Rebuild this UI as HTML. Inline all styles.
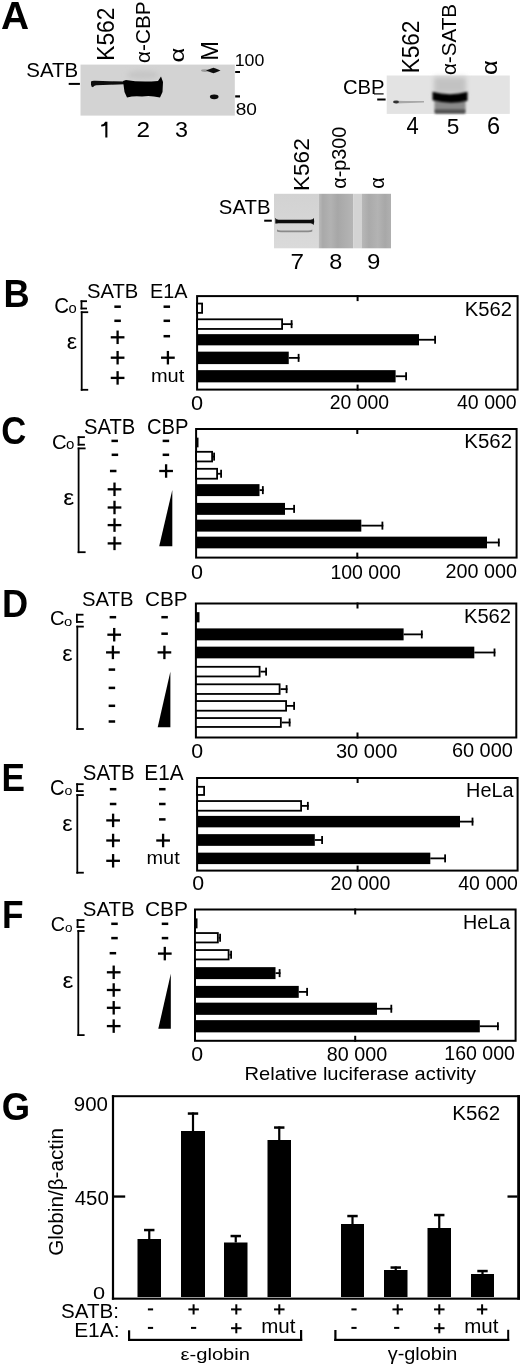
<!DOCTYPE html>
<html><head><meta charset="utf-8"><style>
html,body{margin:0;padding:0;background:#fff;}
svg{display:block;will-change:transform;}
text{font-family:"Liberation Sans", sans-serif;}
</style></head><body>
<svg width="520" height="1368" viewBox="0 0 520 1368">
<rect width="520" height="1368" fill="#fff"/>
<text x="0.93" y="28.50" font-size="37.96" textLength="28.13" lengthAdjust="spacingAndGlyphs" font-weight="bold" fill="#000">A</text>
<defs><filter id="bl1" x="-20%" y="-50%" width="140%" height="200%"><feGaussianBlur stdDeviation="1.2"/></filter><filter id="bl2" x="-20%" y="-50%" width="140%" height="200%"><feGaussianBlur stdDeviation="0.7"/></filter><filter id="bl3" x="-20%" y="-50%" width="140%" height="200%"><feGaussianBlur stdDeviation="2.5"/></filter></defs>
<rect x="80.50" y="64.60" width="154.30" height="51.00" fill="#d3d3d3" />
<ellipse cx="143" cy="75" rx="16" ry="4.5" fill="#c6c6c6" filter="url(#bl3)"/>
<path d="M91,81.5 Q92,80.6 95,80.8 L110,81.2 Q118,81.3 124,81.5 L124,84.2 Q118,84.4 110,84.8 L96,85.2 Q93.5,85.5 93,87.2 Q91,87 91,84.5 Z" fill="#0a0a0a" filter="url(#bl2)"/>
<path d="M123,81 L126,80 Q140,82.5 158,81 L161,76.5 L163,82 L162.5,92 L160,97.5 Q150,95 142,96.5 Q134,95.5 127,97.5 L124.5,92 Z" fill="#050505" filter="url(#bl2)"/>
<ellipse cx="205" cy="70.6" rx="4" ry="1.4" fill="#999" filter="url(#bl2)"/>
<path d="M206,70.5 Q210,68.8 213.5,67.8 Q217,68.8 220.5,70.5 Q217,72.2 213.5,73.2 Q210,72.2 206,70.5 Z" fill="#0a0a0a" filter="url(#bl2)"/>
<ellipse cx="214.2" cy="96.8" rx="4.3" ry="2.4" fill="#0a0a0a" filter="url(#bl2)"/>
<text transform="translate(113.66,60.78) rotate(-90)" font-size="23.75" textLength="53.18" lengthAdjust="spacingAndGlyphs">K562</text>
<text transform="translate(149.69,62.88) rotate(-90)" font-size="20.78" textLength="61.36" lengthAdjust="spacingAndGlyphs">α-CBP</text>
<text transform="translate(184.39,62.39) rotate(-90)" font-size="21.00" textLength="14.81" lengthAdjust="spacingAndGlyphs">α</text>
<text transform="translate(217.50,60.65) rotate(-90)" font-size="23.56" textLength="19.72" lengthAdjust="spacingAndGlyphs">M</text>
<text x="26.28" y="77.40" font-size="20.35" textLength="52.00" lengthAdjust="spacingAndGlyphs" fill="#000">SATB</text>
<rect x="68.70" y="82.90" width="11.20" height="2.00" fill="#000" />
<rect x="235.20" y="71.00" width="4.80" height="2.00" fill="#000" />
<rect x="235.20" y="95.30" width="4.80" height="2.20" fill="#000" />
<text x="234.66" y="65.64" font-size="16.40" textLength="29.72" lengthAdjust="spacingAndGlyphs" fill="#000">100</text>
<text x="235.69" y="115.24" font-size="16.40" textLength="21.27" lengthAdjust="spacingAndGlyphs" fill="#000">80</text>
<path d="M105.2,121.8 L107.4,121.8 L107.4,137.4 L105.3,137.4 L105.3,125.4 Q103.6,126.4 101.2,126.6 L101.2,124.8 Q104.2,124.3 105.2,121.8 Z" fill="#000"/>
<text x="136.48" y="137.40" font-size="22.37" textLength="13.57" lengthAdjust="spacingAndGlyphs" fill="#000">2</text>
<text x="174.92" y="137.18" font-size="22.05" textLength="13.00" lengthAdjust="spacingAndGlyphs" fill="#000">3</text>
<rect x="386.70" y="75.50" width="123.10" height="38.40" fill="#e3e3e3" />
<rect x="434" y="77" width="32" height="17" fill="#c2c2c2" filter="url(#bl3)"/>
<rect x="434.5" y="100" width="31" height="13" fill="#8a8a8a" filter="url(#bl1)"/>
<rect x="435" y="109.5" width="30" height="4" fill="#505050" filter="url(#bl1)"/>
<path d="M396,100.8 Q410,101.2 424,101 L424,102.6 Q410,103 396,103.4 Z" fill="#a8a8a8" filter="url(#bl2)"/>
<ellipse cx="396" cy="102" rx="3" ry="1.4" fill="#333" filter="url(#bl2)"/>
<path d="M432.5,91.8 Q450,96.5 467.5,91.8 L467.5,100.8 Q450,105 432.5,100.3 Z" fill="#050505" filter="url(#bl1)"/>
<text transform="translate(418.77,73.37) rotate(-90)" font-size="23.46" textLength="52.81" lengthAdjust="spacingAndGlyphs">K562</text>
<text transform="translate(455.99,75.08) rotate(-90)" font-size="20.92" textLength="71.13" lengthAdjust="spacingAndGlyphs">α-SATB</text>
<text transform="translate(497.08,74.89) rotate(-90)" font-size="21.55" textLength="14.81" lengthAdjust="spacingAndGlyphs">α</text>
<text x="342.99" y="94.30" font-size="19.93" textLength="41.65" lengthAdjust="spacingAndGlyphs" fill="#000">CBP</text>
<rect x="377.20" y="98.50" width="8.40" height="2.00" fill="#000" />
<rect x="374.00" y="93.30" width="9.60" height="1.20" fill="#000" />
<text x="406.41" y="133.90" font-size="23.42" textLength="12.22" lengthAdjust="spacingAndGlyphs" fill="#000">4</text>
<text x="446.84" y="133.67" font-size="22.80" textLength="12.59" lengthAdjust="spacingAndGlyphs" fill="#000">5</text>
<text x="486.92" y="134.01" font-size="23.53" textLength="13.11" lengthAdjust="spacingAndGlyphs" fill="#000">6</text>
<defs><linearGradient id="l8" x1="0" x2="1" y1="0" y2="0"><stop offset="0" stop-color="#bcbcbc"/><stop offset="0.12" stop-color="#a9a9a9"/><stop offset="0.35" stop-color="#b2b2b2"/><stop offset="0.55" stop-color="#a7a7a7"/><stop offset="0.8" stop-color="#afafaf"/><stop offset="1" stop-color="#b5b5b5"/></linearGradient><linearGradient id="l9" x1="0" x2="1" y1="0" y2="0"><stop offset="0" stop-color="#b8b8b8"/><stop offset="0.25" stop-color="#aaaaaa"/><stop offset="0.55" stop-color="#b3b3b3"/><stop offset="0.8" stop-color="#a8a8a8"/><stop offset="1" stop-color="#b0b0b0"/></linearGradient><linearGradient id="l7" x1="0" x2="0" y1="0" y2="1"><stop offset="0" stop-color="#d2d2d2"/><stop offset="1" stop-color="#dadada"/></linearGradient></defs>
<rect x="274.00" y="193.80" width="44.60" height="54.50" fill="url(#l7)" />
<rect x="318.60" y="193.80" width="34.60" height="54.50" fill="url(#l8)" />
<rect x="353.20" y="193.80" width="8.40" height="54.50" fill="#d3d3d3" />
<rect x="361.60" y="193.80" width="29.40" height="54.50" fill="url(#l9)" />
<path d="M275.3,217.8 Q276,219.6 278.5,219.7 L310.5,219.7 Q313,219.6 313.9,217.9 L314.2,222 L313.6,225 Q312.5,223.3 310.5,223.2 L278.5,223.2 Q276,223.3 275.3,223.6 Z" fill="#0c0c0c" filter="url(#bl2)"/>
<path d="M277,229.6 Q278.5,230.5 281,230.5 L308,230.5 Q311,230.5 312.3,229.6 L312.3,231.5 Q311,232.2 308,232.2 L281,232.2 Q278.5,232.2 277,231.5 Z" fill="#8a8a8a" filter="url(#bl2)"/>
<text transform="translate(308.67,191.07) rotate(-90)" font-size="22.90" textLength="52.81" lengthAdjust="spacingAndGlyphs">K562</text>
<text transform="translate(345.73,188.84) rotate(-90)" font-size="20.11" textLength="62.20" lengthAdjust="spacingAndGlyphs">α-p300</text>
<text transform="translate(384.00,188.85) rotate(-90)" font-size="19.54" textLength="11.51" lengthAdjust="spacingAndGlyphs">α</text>
<text x="218.88" y="213.50" font-size="20.21" textLength="51.69" lengthAdjust="spacingAndGlyphs" fill="#000">SATB</text>
<rect x="264.20" y="219.70" width="7.60" height="2.00" fill="#000" />
<text x="290.42" y="268.80" font-size="21.82" textLength="13.52" lengthAdjust="spacingAndGlyphs" fill="#000">7</text>
<text x="329.21" y="268.59" font-size="21.20" textLength="13.02" lengthAdjust="spacingAndGlyphs" fill="#000">8</text>
<text x="366.96" y="268.59" font-size="21.20" textLength="13.35" lengthAdjust="spacingAndGlyphs" fill="#000">9</text>
<text x="3.45" y="307.40" font-size="38.25" textLength="26.16" lengthAdjust="spacingAndGlyphs" font-weight="bold" fill="#000">B</text>
<text x="86.89" y="297.59" font-size="20.64" textLength="51.38" lengthAdjust="spacingAndGlyphs" fill="#000">SATB</text>
<text x="149.96" y="297.80" font-size="21.09" textLength="37.49" lengthAdjust="spacingAndGlyphs" fill="#000">E1A</text>
<text x="54.27" y="312.59" font-size="21.34" textLength="14.84" lengthAdjust="spacingAndGlyphs" fill="#000">C</text>
<text x="68.57" y="312.66" font-size="14.25" textLength="8.24" lengthAdjust="spacingAndGlyphs" fill="#000">o</text>
<rect x="80.60" y="300.30" width="1.80" height="9.10" fill="#000" />
<rect x="80.60" y="300.30" width="6.40" height="1.80" fill="#000" />
<rect x="80.60" y="307.60" width="6.40" height="1.80" fill="#000" />
<rect x="80.80" y="311.30" width="1.80" height="79.40" fill="#000" />
<rect x="80.80" y="311.30" width="7.40" height="1.80" fill="#000" />
<rect x="80.80" y="388.90" width="7.40" height="1.80" fill="#000" />
<text x="66.68" y="348.58" font-size="21.92" textLength="10.40" lengthAdjust="spacingAndGlyphs" fill="#000">ε</text>
<rect x="114.35" y="305.45" width="6.50" height="2.50" fill="#000" />
<rect x="114.35" y="319.55" width="6.50" height="2.50" fill="#000" />
<rect x="110.75" y="336.15" width="13.70" height="2.30" fill="#000" />
<rect x="116.45" y="330.55" width="2.30" height="13.50" fill="#000" />
<rect x="110.75" y="356.55" width="13.70" height="2.30" fill="#000" />
<rect x="116.45" y="350.95" width="2.30" height="13.50" fill="#000" />
<rect x="110.75" y="376.75" width="13.70" height="2.30" fill="#000" />
<rect x="116.45" y="371.15" width="2.30" height="13.50" fill="#000" />
<rect x="163.55" y="305.45" width="6.50" height="2.50" fill="#000" />
<rect x="163.55" y="319.55" width="6.50" height="2.50" fill="#000" />
<rect x="163.55" y="334.95" width="6.50" height="2.50" fill="#000" />
<rect x="161.05" y="356.55" width="13.70" height="2.30" fill="#000" />
<rect x="166.75" y="350.95" width="2.30" height="13.50" fill="#000" />
<text x="150.95" y="381.52" font-size="17.56" textLength="33.39" lengthAdjust="spacingAndGlyphs" fill="#000">mut</text>
<rect x="197.10" y="296.10" width="320.50" height="93.50" fill="none" stroke="#000" stroke-width="2"/>
<rect x="356.60" y="295.10" width="2.00" height="6.00" fill="#000" />
<rect x="356.60" y="384.60" width="2.00" height="6.00" fill="#000" />
<rect x="197.10" y="303.55" width="5.00" height="9.30" fill="#fff" stroke="#000" stroke-width="1.8"/>
<rect x="197.10" y="319.30" width="85.00" height="9.65" fill="#fff" stroke="#000" stroke-width="1.8"/>
<rect x="283.00" y="323.23" width="9.50" height="1.80" fill="#000" />
<rect x="290.70" y="320.12" width="1.80" height="8.00" fill="#000" />
<rect x="197.10" y="334.15" width="221.90" height="11.20" fill="#000" />
<rect x="419.00" y="338.85" width="17.00" height="1.80" fill="#000" />
<rect x="434.20" y="335.75" width="1.80" height="8.00" fill="#000" />
<rect x="197.10" y="351.65" width="91.65" height="12.45" fill="#000" />
<rect x="288.75" y="356.98" width="10.75" height="1.80" fill="#000" />
<rect x="297.70" y="353.88" width="1.80" height="8.00" fill="#000" />
<rect x="197.10" y="370.15" width="198.50" height="12.20" fill="#000" />
<rect x="395.60" y="375.35" width="11.40" height="1.80" fill="#000" />
<rect x="405.20" y="372.25" width="1.80" height="8.00" fill="#000" />
<text x="464.83" y="316.41" font-size="19.36" textLength="47.19" lengthAdjust="spacingAndGlyphs" fill="#000">K562</text>
<text x="191.03" y="409.50" font-size="20.35" textLength="12.11" lengthAdjust="spacingAndGlyphs" fill="#000">0</text>
<text x="329.73" y="409.40" font-size="19.51" textLength="59.32" lengthAdjust="spacingAndGlyphs" fill="#000">20 000</text>
<text x="456.96" y="409.00" font-size="19.51" textLength="59.80" lengthAdjust="spacingAndGlyphs" fill="#000">40 000</text>
<text x="1.21" y="444.42" font-size="38.16" textLength="25.03" lengthAdjust="spacingAndGlyphs" font-weight="bold" fill="#000">C</text>
<text x="83.99" y="433.98" font-size="21.63" textLength="51.27" lengthAdjust="spacingAndGlyphs" fill="#000">SATB</text>
<text x="146.89" y="433.98" font-size="21.63" textLength="41.54" lengthAdjust="spacingAndGlyphs" fill="#000">CBP</text>
<text x="51.89" y="448.54" font-size="20.85" textLength="14.62" lengthAdjust="spacingAndGlyphs" fill="#000">C</text>
<text x="65.96" y="448.61" font-size="14.16" textLength="8.36" lengthAdjust="spacingAndGlyphs" fill="#000">o</text>
<rect x="77.70" y="436.25" width="1.80" height="9.35" fill="#000" />
<rect x="77.70" y="436.25" width="7.20" height="1.80" fill="#000" />
<rect x="77.70" y="443.80" width="7.20" height="1.80" fill="#000" />
<rect x="77.70" y="447.50" width="1.80" height="105.60" fill="#000" />
<rect x="77.70" y="447.50" width="7.90" height="1.80" fill="#000" />
<rect x="77.70" y="551.30" width="7.90" height="1.80" fill="#000" />
<text x="63.23" y="504.99" font-size="21.37" textLength="11.03" lengthAdjust="spacingAndGlyphs" fill="#000">ε</text>
<rect x="111.45" y="439.65" width="6.50" height="2.50" fill="#000" />
<rect x="111.65" y="453.55" width="6.50" height="2.50" fill="#000" />
<rect x="109.95" y="469.75" width="6.50" height="2.50" fill="#000" />
<rect x="107.65" y="488.15" width="13.70" height="2.30" fill="#000" />
<rect x="113.35" y="482.55" width="2.30" height="13.50" fill="#000" />
<rect x="107.65" y="506.35" width="13.70" height="2.30" fill="#000" />
<rect x="113.35" y="500.75" width="2.30" height="13.50" fill="#000" />
<rect x="107.65" y="523.95" width="13.70" height="2.30" fill="#000" />
<rect x="113.35" y="518.35" width="2.30" height="13.50" fill="#000" />
<rect x="107.65" y="542.25" width="13.70" height="2.30" fill="#000" />
<rect x="113.35" y="536.65" width="2.30" height="13.50" fill="#000" />
<rect x="162.65" y="439.65" width="6.50" height="2.50" fill="#000" />
<rect x="162.65" y="453.55" width="6.50" height="2.50" fill="#000" />
<rect x="159.25" y="469.85" width="13.70" height="2.30" fill="#000" />
<rect x="164.95" y="464.25" width="2.30" height="13.50" fill="#000" />
<path d="M172.3,489.9 L172.3,546.3 L159.2,546.3 Z" fill="#000"/>
<rect x="196.10" y="429.00" width="320.50" height="128.60" fill="none" stroke="#000" stroke-width="2"/>
<rect x="356.30" y="428.00" width="2.00" height="6.00" fill="#000" />
<rect x="356.30" y="552.60" width="2.00" height="6.00" fill="#000" />
<rect x="196.10" y="437.65" width="2.40" height="9.70" fill="#000" />
<rect x="196.10" y="451.80" width="16.00" height="9.65" fill="#fff" stroke="#000" stroke-width="1.8"/>
<rect x="213.00" y="455.73" width="2.00" height="1.80" fill="#000" />
<rect x="213.20" y="452.62" width="1.80" height="8.00" fill="#000" />
<rect x="196.10" y="468.80" width="21.00" height="9.90" fill="#fff" stroke="#000" stroke-width="1.8"/>
<rect x="218.00" y="472.85" width="4.00" height="1.80" fill="#000" />
<rect x="220.20" y="469.75" width="1.80" height="8.00" fill="#000" />
<rect x="196.10" y="484.15" width="63.40" height="11.95" fill="#000" />
<rect x="259.50" y="489.23" width="4.25" height="1.80" fill="#000" />
<rect x="261.95" y="486.12" width="1.80" height="8.00" fill="#000" />
<rect x="196.10" y="502.90" width="88.90" height="11.95" fill="#000" />
<rect x="285.00" y="507.98" width="10.00" height="1.80" fill="#000" />
<rect x="293.20" y="504.88" width="1.80" height="8.00" fill="#000" />
<rect x="196.10" y="519.65" width="165.20" height="11.95" fill="#000" />
<rect x="361.30" y="524.73" width="22.00" height="1.80" fill="#000" />
<rect x="381.50" y="521.62" width="1.80" height="8.00" fill="#000" />
<rect x="196.10" y="536.65" width="290.90" height="11.70" fill="#000" />
<rect x="487.00" y="541.60" width="12.70" height="1.80" fill="#000" />
<rect x="497.90" y="538.50" width="1.80" height="8.00" fill="#000" />
<text x="464.31" y="448.41" font-size="19.36" textLength="47.72" lengthAdjust="spacingAndGlyphs" fill="#000">K562</text>
<text x="191.14" y="579.49" font-size="20.64" textLength="12.00" lengthAdjust="spacingAndGlyphs" fill="#000">0</text>
<text x="330.44" y="578.81" font-size="19.36" textLength="70.44" lengthAdjust="spacingAndGlyphs" fill="#000">100 000</text>
<text x="445.51" y="578.40" font-size="19.93" textLength="71.48" lengthAdjust="spacingAndGlyphs" fill="#000">200 000</text>
<text x="2.05" y="617.40" font-size="38.25" textLength="26.18" lengthAdjust="spacingAndGlyphs" font-weight="bold" fill="#000">D</text>
<text x="82.09" y="605.99" font-size="20.92" textLength="51.48" lengthAdjust="spacingAndGlyphs" fill="#000">SATB</text>
<text x="144.96" y="605.99" font-size="20.92" textLength="42.60" lengthAdjust="spacingAndGlyphs" fill="#000">CBP</text>
<text x="49.99" y="625.49" font-size="20.78" textLength="14.56" lengthAdjust="spacingAndGlyphs" fill="#000">C</text>
<text x="64.07" y="625.57" font-size="13.15" textLength="8.24" lengthAdjust="spacingAndGlyphs" fill="#000">o</text>
<rect x="76.00" y="613.80" width="1.80" height="9.00" fill="#000" />
<rect x="76.00" y="613.80" width="7.50" height="1.80" fill="#000" />
<rect x="76.00" y="621.00" width="7.50" height="1.80" fill="#000" />
<rect x="76.40" y="625.70" width="1.80" height="104.20" fill="#000" />
<rect x="76.40" y="625.70" width="7.40" height="1.80" fill="#000" />
<rect x="76.40" y="728.10" width="7.40" height="1.80" fill="#000" />
<text x="62.18" y="661.38" font-size="21.92" textLength="10.40" lengthAdjust="spacingAndGlyphs" fill="#000">ε</text>
<rect x="109.65" y="615.95" width="6.50" height="2.50" fill="#000" />
<rect x="107.35" y="633.55" width="13.70" height="2.30" fill="#000" />
<rect x="113.05" y="627.95" width="2.30" height="13.50" fill="#000" />
<rect x="106.05" y="651.25" width="13.70" height="2.30" fill="#000" />
<rect x="111.75" y="645.65" width="2.30" height="13.50" fill="#000" />
<rect x="108.65" y="668.35" width="6.50" height="2.50" fill="#000" />
<rect x="108.65" y="686.65" width="6.50" height="2.50" fill="#000" />
<rect x="108.65" y="704.55" width="6.50" height="2.50" fill="#000" />
<rect x="108.65" y="720.25" width="6.50" height="2.50" fill="#000" />
<rect x="161.35" y="615.95" width="6.50" height="2.50" fill="#000" />
<rect x="161.35" y="632.45" width="6.50" height="2.50" fill="#000" />
<rect x="157.55" y="651.25" width="13.70" height="2.30" fill="#000" />
<rect x="163.25" y="645.65" width="2.30" height="13.50" fill="#000" />
<path d="M170.4,671.5 L170.4,727.3 L157.7,727.3 Z" fill="#000"/>
<rect x="195.90" y="603.50" width="320.40" height="134.00" fill="none" stroke="#000" stroke-width="2"/>
<rect x="356.50" y="602.50" width="2.00" height="6.00" fill="#000" />
<rect x="356.50" y="732.50" width="2.00" height="6.00" fill="#000" />
<rect x="195.90" y="612.15" width="3.60" height="10.20" fill="#000" />
<rect x="195.90" y="628.40" width="207.70" height="11.95" fill="#000" />
<rect x="403.60" y="633.48" width="19.10" height="1.80" fill="#000" />
<rect x="420.90" y="630.38" width="1.80" height="8.00" fill="#000" />
<rect x="195.90" y="646.65" width="278.40" height="11.70" fill="#000" />
<rect x="474.30" y="651.60" width="21.10" height="1.80" fill="#000" />
<rect x="493.60" y="648.50" width="1.80" height="8.00" fill="#000" />
<rect x="195.90" y="666.80" width="63.70" height="9.65" fill="#fff" stroke="#000" stroke-width="1.8"/>
<rect x="260.50" y="670.73" width="6.50" height="1.80" fill="#000" />
<rect x="265.20" y="667.62" width="1.80" height="8.00" fill="#000" />
<rect x="195.90" y="684.30" width="83.70" height="9.65" fill="#fff" stroke="#000" stroke-width="1.8"/>
<rect x="280.50" y="688.23" width="7.00" height="1.80" fill="#000" />
<rect x="285.70" y="685.12" width="1.80" height="8.00" fill="#000" />
<rect x="195.90" y="701.05" width="90.20" height="9.65" fill="#fff" stroke="#000" stroke-width="1.8"/>
<rect x="287.00" y="704.98" width="8.00" height="1.80" fill="#000" />
<rect x="293.20" y="701.88" width="1.80" height="8.00" fill="#000" />
<rect x="195.90" y="718.05" width="84.95" height="8.90" fill="#fff" stroke="#000" stroke-width="1.8"/>
<rect x="281.75" y="721.60" width="8.75" height="1.80" fill="#000" />
<rect x="288.70" y="718.50" width="1.80" height="8.00" fill="#000" />
<text x="463.94" y="622.55" font-size="19.79" textLength="47.08" lengthAdjust="spacingAndGlyphs" fill="#000">K562</text>
<text x="191.15" y="758.10" font-size="20.49" textLength="11.88" lengthAdjust="spacingAndGlyphs" fill="#000">0</text>
<text x="335.95" y="757.60" font-size="19.79" textLength="61.43" lengthAdjust="spacingAndGlyphs" fill="#000">30 000</text>
<text x="451.90" y="757.30" font-size="19.79" textLength="60.97" lengthAdjust="spacingAndGlyphs" fill="#000">60 000</text>
<text x="1.43" y="790.70" font-size="38.25" textLength="23.46" lengthAdjust="spacingAndGlyphs" font-weight="bold" fill="#000">E</text>
<text x="82.78" y="779.99" font-size="21.20" textLength="51.90" lengthAdjust="spacingAndGlyphs" fill="#000">SATB</text>
<text x="144.29" y="780.20" font-size="21.82" textLength="39.27" lengthAdjust="spacingAndGlyphs" fill="#000">E1A</text>
<text x="49.99" y="795.29" font-size="21.34" textLength="14.56" lengthAdjust="spacingAndGlyphs" fill="#000">C</text>
<text x="64.40" y="795.37" font-size="12.97" textLength="7.89" lengthAdjust="spacingAndGlyphs" fill="#000">o</text>
<rect x="76.25" y="783.30" width="1.80" height="8.70" fill="#000" />
<rect x="76.25" y="783.30" width="7.40" height="1.80" fill="#000" />
<rect x="76.25" y="790.20" width="7.40" height="1.80" fill="#000" />
<rect x="76.40" y="794.20" width="1.80" height="79.40" fill="#000" />
<rect x="76.40" y="794.20" width="7.40" height="1.80" fill="#000" />
<rect x="76.40" y="871.80" width="7.40" height="1.80" fill="#000" />
<text x="62.18" y="831.28" font-size="21.55" textLength="10.40" lengthAdjust="spacingAndGlyphs" fill="#000">ε</text>
<rect x="109.85" y="787.95" width="6.50" height="2.50" fill="#000" />
<rect x="109.85" y="802.75" width="6.50" height="2.50" fill="#000" />
<rect x="106.25" y="819.25" width="13.70" height="2.30" fill="#000" />
<rect x="111.95" y="813.65" width="2.30" height="13.50" fill="#000" />
<rect x="106.25" y="839.35" width="13.70" height="2.30" fill="#000" />
<rect x="111.95" y="833.75" width="2.30" height="13.50" fill="#000" />
<rect x="106.25" y="859.65" width="13.70" height="2.30" fill="#000" />
<rect x="111.95" y="854.05" width="2.30" height="13.50" fill="#000" />
<rect x="159.05" y="787.95" width="6.50" height="2.50" fill="#000" />
<rect x="159.05" y="802.75" width="6.50" height="2.50" fill="#000" />
<rect x="159.05" y="818.15" width="6.50" height="2.50" fill="#000" />
<rect x="156.25" y="839.35" width="13.70" height="2.30" fill="#000" />
<rect x="161.95" y="833.75" width="2.30" height="13.50" fill="#000" />
<text x="146.56" y="864.41" font-size="18.78" textLength="33.18" lengthAdjust="spacingAndGlyphs" fill="#000">mut</text>
<rect x="197.10" y="778.00" width="320.50" height="92.60" fill="none" stroke="#000" stroke-width="2"/>
<rect x="356.60" y="777.00" width="2.00" height="6.00" fill="#000" />
<rect x="356.60" y="865.60" width="2.00" height="6.00" fill="#000" />
<rect x="197.10" y="786.80" width="7.00" height="8.15" fill="#fff" stroke="#000" stroke-width="1.8"/>
<rect x="197.10" y="801.05" width="104.00" height="9.65" fill="#fff" stroke="#000" stroke-width="1.8"/>
<rect x="302.00" y="804.98" width="6.75" height="1.80" fill="#000" />
<rect x="306.95" y="801.88" width="1.80" height="8.00" fill="#000" />
<rect x="197.10" y="815.90" width="262.90" height="11.45" fill="#000" />
<rect x="460.00" y="820.73" width="13.40" height="1.80" fill="#000" />
<rect x="471.60" y="817.62" width="1.80" height="8.00" fill="#000" />
<rect x="197.10" y="834.15" width="117.70" height="11.70" fill="#000" />
<rect x="314.80" y="839.10" width="8.20" height="1.80" fill="#000" />
<rect x="321.20" y="836.00" width="1.80" height="8.00" fill="#000" />
<rect x="197.10" y="852.65" width="233.20" height="11.45" fill="#000" />
<rect x="430.30" y="857.48" width="15.70" height="1.80" fill="#000" />
<rect x="444.20" y="854.38" width="1.80" height="8.00" fill="#000" />
<text x="466.11" y="796.80" font-size="20.07" textLength="47.40" lengthAdjust="spacingAndGlyphs" fill="#000">HeLa</text>
<text x="192.25" y="890.49" font-size="20.64" textLength="11.88" lengthAdjust="spacingAndGlyphs" fill="#000">0</text>
<text x="330.52" y="890.00" font-size="19.65" textLength="59.84" lengthAdjust="spacingAndGlyphs" fill="#000">20 000</text>
<text x="458.26" y="889.70" font-size="19.93" textLength="59.69" lengthAdjust="spacingAndGlyphs" fill="#000">40 000</text>
<text x="1.92" y="928.00" font-size="38.55" textLength="21.55" lengthAdjust="spacingAndGlyphs" font-weight="bold" fill="#000">F</text>
<text x="82.78" y="915.99" font-size="20.92" textLength="51.90" lengthAdjust="spacingAndGlyphs" fill="#000">SATB</text>
<text x="144.95" y="915.99" font-size="20.92" textLength="43.12" lengthAdjust="spacingAndGlyphs" fill="#000">CBP</text>
<text x="50.71" y="931.49" font-size="21.06" textLength="14.27" lengthAdjust="spacingAndGlyphs" fill="#000">C</text>
<text x="65.12" y="931.57" font-size="13.15" textLength="7.53" lengthAdjust="spacingAndGlyphs" fill="#000">o</text>
<rect x="76.70" y="919.20" width="1.80" height="8.70" fill="#000" />
<rect x="76.70" y="919.20" width="7.70" height="1.80" fill="#000" />
<rect x="76.70" y="926.10" width="7.70" height="1.80" fill="#000" />
<rect x="77.40" y="930.10" width="1.80" height="105.90" fill="#000" />
<rect x="77.40" y="930.10" width="7.20" height="1.80" fill="#000" />
<rect x="77.40" y="1034.20" width="7.20" height="1.80" fill="#000" />
<text x="62.64" y="987.68" font-size="21.92" textLength="10.97" lengthAdjust="spacingAndGlyphs" fill="#000">ε</text>
<rect x="111.25" y="922.55" width="6.50" height="2.50" fill="#000" />
<rect x="111.25" y="936.85" width="6.50" height="2.50" fill="#000" />
<rect x="109.65" y="951.95" width="6.50" height="2.50" fill="#000" />
<rect x="106.85" y="971.15" width="13.70" height="2.30" fill="#000" />
<rect x="112.55" y="965.55" width="2.30" height="13.50" fill="#000" />
<rect x="106.85" y="988.85" width="13.70" height="2.30" fill="#000" />
<rect x="112.55" y="983.25" width="2.30" height="13.50" fill="#000" />
<rect x="106.85" y="1006.65" width="13.70" height="2.30" fill="#000" />
<rect x="112.55" y="1001.05" width="2.30" height="13.50" fill="#000" />
<rect x="106.85" y="1024.95" width="13.70" height="2.30" fill="#000" />
<rect x="112.55" y="1019.35" width="2.30" height="13.50" fill="#000" />
<rect x="161.75" y="922.55" width="6.50" height="2.50" fill="#000" />
<rect x="161.75" y="936.85" width="6.50" height="2.50" fill="#000" />
<rect x="157.95" y="952.45" width="13.70" height="2.30" fill="#000" />
<rect x="163.65" y="946.85" width="2.30" height="13.50" fill="#000" />
<path d="M170.8,973.8 L170.8,1028.8 L158.3,1028.8 Z" fill="#000"/>
<rect x="195.00" y="909.50" width="320.60" height="131.30" fill="none" stroke="#000" stroke-width="2"/>
<rect x="354.20" y="908.50" width="2.00" height="6.00" fill="#000" />
<rect x="354.20" y="1035.80" width="2.00" height="6.00" fill="#000" />
<rect x="195.00" y="918.40" width="2.50" height="9.95" fill="#000" />
<rect x="195.00" y="933.05" width="22.85" height="9.40" fill="#fff" stroke="#000" stroke-width="1.8"/>
<rect x="218.75" y="936.85" width="2.25" height="1.80" fill="#000" />
<rect x="219.20" y="933.75" width="1.80" height="8.00" fill="#000" />
<rect x="195.00" y="950.05" width="33.60" height="9.40" fill="#fff" stroke="#000" stroke-width="1.8"/>
<rect x="229.50" y="953.85" width="2.50" height="1.80" fill="#000" />
<rect x="230.20" y="950.75" width="1.80" height="8.00" fill="#000" />
<rect x="195.00" y="967.15" width="80.50" height="11.95" fill="#000" />
<rect x="275.50" y="972.23" width="5.00" height="1.80" fill="#000" />
<rect x="278.70" y="969.12" width="1.80" height="8.00" fill="#000" />
<rect x="195.00" y="985.90" width="103.75" height="11.95" fill="#000" />
<rect x="298.75" y="990.98" width="9.25" height="1.80" fill="#000" />
<rect x="306.20" y="987.88" width="1.80" height="8.00" fill="#000" />
<rect x="195.00" y="1002.65" width="182.00" height="12.20" fill="#000" />
<rect x="377.00" y="1007.85" width="15.20" height="1.80" fill="#000" />
<rect x="390.40" y="1004.75" width="1.80" height="8.00" fill="#000" />
<rect x="195.00" y="1020.15" width="284.80" height="12.20" fill="#000" />
<rect x="479.80" y="1025.35" width="19.00" height="1.80" fill="#000" />
<rect x="497.00" y="1022.25" width="1.80" height="8.00" fill="#000" />
<text x="463.12" y="928.80" font-size="20.07" textLength="47.14" lengthAdjust="spacingAndGlyphs" fill="#000">HeLa</text>
<text x="191.15" y="1061.49" font-size="20.64" textLength="11.88" lengthAdjust="spacingAndGlyphs" fill="#000">0</text>
<text x="326.86" y="1060.81" font-size="19.36" textLength="60.40" lengthAdjust="spacingAndGlyphs" fill="#000">80 000</text>
<text x="444.33" y="1060.30" font-size="19.79" textLength="70.65" lengthAdjust="spacingAndGlyphs" fill="#000">160 000</text>
<text x="244.59" y="1079.64" font-size="19.09" textLength="231.56" lengthAdjust="spacingAndGlyphs" fill="#000">Relative luciferase activity</text>
<text x="1.64" y="1119.62" font-size="37.88" textLength="28.35" lengthAdjust="spacingAndGlyphs" font-weight="bold" fill="#000">G</text>
<rect x="111.90" y="1095.20" width="408.10" height="2.00" fill="#000" />
<rect x="111.90" y="1095.20" width="2.20" height="204.50" fill="#000" />
<rect x="111.90" y="1297.60" width="408.10" height="2.10" fill="#000" />
<rect x="517.20" y="1095.20" width="2.80" height="204.50" fill="#000" />
<rect x="113.30" y="1195.40" width="11.90" height="2.30" fill="#000" />
<rect x="507.50" y="1195.40" width="10.00" height="2.30" fill="#000" />
<rect x="137.50" y="1239.00" width="23.50" height="58.00" fill="#000" />
<rect x="148.15" y="1229.00" width="2.20" height="10.00" fill="#000" />
<rect x="144.05" y="1228.80" width="10.40" height="2.50" fill="#000" />
<rect x="181.00" y="1131.00" width="24.00" height="166.00" fill="#000" />
<rect x="191.90" y="1112.50" width="2.20" height="18.50" fill="#000" />
<rect x="187.80" y="1112.30" width="10.40" height="2.50" fill="#000" />
<rect x="224.00" y="1242.50" width="23.50" height="54.50" fill="#000" />
<rect x="234.65" y="1235.00" width="2.20" height="7.50" fill="#000" />
<rect x="230.55" y="1234.80" width="10.40" height="2.50" fill="#000" />
<rect x="267.50" y="1140.00" width="23.50" height="157.00" fill="#000" />
<rect x="278.15" y="1126.50" width="2.20" height="13.50" fill="#000" />
<rect x="274.05" y="1126.30" width="10.40" height="2.50" fill="#000" />
<rect x="341.00" y="1224.00" width="23.00" height="73.00" fill="#000" />
<rect x="351.40" y="1215.00" width="2.20" height="9.00" fill="#000" />
<rect x="347.30" y="1214.80" width="10.40" height="2.50" fill="#000" />
<rect x="384.00" y="1270.00" width="23.50" height="27.00" fill="#000" />
<rect x="394.65" y="1266.50" width="2.20" height="3.50" fill="#000" />
<rect x="390.55" y="1266.30" width="10.40" height="2.50" fill="#000" />
<rect x="427.50" y="1228.00" width="23.50" height="69.00" fill="#000" />
<rect x="438.15" y="1214.00" width="2.20" height="14.00" fill="#000" />
<rect x="434.05" y="1213.80" width="10.40" height="2.50" fill="#000" />
<rect x="471.00" y="1274.00" width="23.00" height="23.00" fill="#000" />
<rect x="481.40" y="1270.00" width="2.20" height="4.00" fill="#000" />
<rect x="477.30" y="1269.80" width="10.40" height="2.50" fill="#000" />
<text x="73.83" y="1110.60" font-size="20.49" textLength="34.16" lengthAdjust="spacingAndGlyphs" fill="#000">900</text>
<text x="74.74" y="1205.30" font-size="20.07" textLength="34.15" lengthAdjust="spacingAndGlyphs" fill="#000">450</text>
<text x="92.93" y="1299.03" font-size="17.39" textLength="12.11" lengthAdjust="spacingAndGlyphs" fill="#000">0</text>
<text transform="translate(63.13,1255.83) rotate(-90)" font-size="20.59" textLength="127.91" lengthAdjust="spacingAndGlyphs">Globin/β-actin</text>
<text x="452.21" y="1119.70" font-size="19.93" textLength="47.93" lengthAdjust="spacingAndGlyphs" fill="#000">K562</text>
<text x="61.07" y="1318.00" font-size="20.07" textLength="57.99" lengthAdjust="spacingAndGlyphs" fill="#000">SATB:</text>
<text x="74.18" y="1337.00" font-size="20.51" textLength="45.32" lengthAdjust="spacingAndGlyphs" fill="#000">E1A:</text>
<rect x="147.90" y="1308.40" width="5.20" height="2.00" fill="#000" />
<rect x="188.35" y="1308.40" width="10.50" height="2.00" fill="#000" />
<rect x="192.60" y="1304.30" width="2.00" height="10.20" fill="#000" />
<rect x="231.05" y="1308.40" width="10.50" height="2.00" fill="#000" />
<rect x="235.30" y="1304.30" width="2.00" height="10.20" fill="#000" />
<rect x="274.05" y="1308.40" width="10.50" height="2.00" fill="#000" />
<rect x="278.30" y="1304.30" width="2.00" height="10.20" fill="#000" />
<rect x="351.40" y="1308.40" width="5.20" height="2.00" fill="#000" />
<rect x="392.45" y="1308.40" width="10.50" height="2.00" fill="#000" />
<rect x="396.70" y="1304.30" width="2.00" height="10.20" fill="#000" />
<rect x="434.05" y="1308.40" width="10.50" height="2.00" fill="#000" />
<rect x="438.30" y="1304.30" width="2.00" height="10.20" fill="#000" />
<rect x="476.85" y="1308.40" width="10.50" height="2.00" fill="#000" />
<rect x="481.10" y="1304.30" width="2.00" height="10.20" fill="#000" />
<rect x="147.90" y="1326.90" width="5.20" height="2.00" fill="#000" />
<rect x="191.00" y="1326.90" width="5.20" height="2.00" fill="#000" />
<rect x="231.05" y="1327.20" width="10.50" height="2.00" fill="#000" />
<rect x="235.30" y="1323.10" width="2.00" height="10.20" fill="#000" />
<text x="261.26" y="1333.30" font-size="19.85" textLength="34.23" lengthAdjust="spacingAndGlyphs" fill="#000">mut</text>
<rect x="351.40" y="1326.90" width="5.20" height="2.00" fill="#000" />
<rect x="394.10" y="1326.90" width="5.20" height="2.00" fill="#000" />
<rect x="434.05" y="1327.20" width="10.50" height="2.00" fill="#000" />
<rect x="438.30" y="1323.10" width="2.00" height="10.20" fill="#000" />
<text x="464.16" y="1333.30" font-size="19.85" textLength="34.23" lengthAdjust="spacingAndGlyphs" fill="#000">mut</text>
<rect x="128.00" y="1330.30" width="2.20" height="10.70" fill="#000" />
<rect x="128.00" y="1338.80" width="174.20" height="2.20" fill="#000" />
<rect x="300.00" y="1330.00" width="2.20" height="11.00" fill="#000" />
<rect x="334.30" y="1330.00" width="2.20" height="11.00" fill="#000" />
<rect x="334.30" y="1338.80" width="174.90" height="2.20" fill="#000" />
<rect x="507.20" y="1329.80" width="2.00" height="11.20" fill="#000" />
<text x="180.49" y="1360.40" font-size="17.37" textLength="69.52" lengthAdjust="spacingAndGlyphs" fill="#000">ε-globin</text>
<text x="387.70" y="1360.26" font-size="18.02" textLength="69.74" lengthAdjust="spacingAndGlyphs" fill="#000">γ-globin</text>
</svg>
</body></html>
